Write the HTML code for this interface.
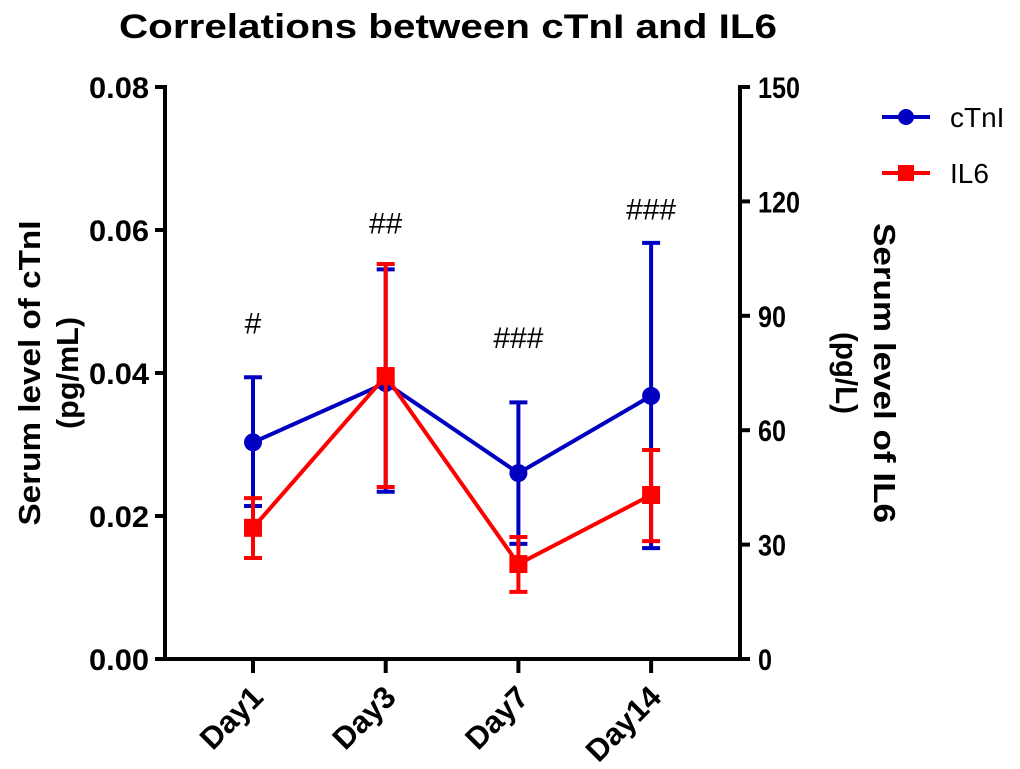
<!DOCTYPE html>
<html><head><meta charset="utf-8"><style>
body{margin:0;background:#fff;}
svg{display:block;font-family:"Liberation Sans",Arial,sans-serif;}
</style></head><body>
<svg id="chart" width="1020" height="769">
<text x="448" y="38" text-anchor="middle" font-size="34" font-weight="bold" textLength="658" lengthAdjust="spacingAndGlyphs">Correlations between cTnI and IL6</text>
<g id="axes"></g>
<g id="marks"></g>
<g>
<g>
<line x1="882" y1="117" x2="930" y2="117" stroke="#0000c0" stroke-width="4"/>
<circle cx="906" cy="117" r="8" fill="#0000c0"/>
<text x="950" y="127" font-size="28">cTnI</text></g>
<g>
<line x1="882" y1="173" x2="930" y2="173" stroke="#ff0000" stroke-width="4"/>
<rect x="898" y="165" width="16" height="16" fill="#ff0000"/>
<text x="950" y="183" font-size="28">IL6</text></g>
</g>
</svg>
<script>
const categories=["Day1","Day3","Day7","Day14"];
const ctniMean=[0.0303,0.0386,0.026,0.0368];
const ctniUpper=[0.0394,0.0545,0.0359,0.0582];
const ctniLower=[0.0214,0.0234,0.0161,0.0155];
const il6Mean=[34.4,74.2,24.9,43.0];
const il6Upper=[42.2,103.6,32.0,54.8];
const il6Lower=[26.5,45.1,17.6,30.9];
const leftTicks=[0,0.02,0.04,0.06,0.08];
const rightTicks=[0,30,60,90,120,150];
const marks=["#","##","###","###"];
const markLevels=[0.0455,0.0595,0.0435,0.0615];

const NS="http://www.w3.org/2000/svg";
const X0=165,X1=740,Y0=659,Y1=87;
const xPos=i=>253+i*132.7;
const yL=v=>Y0-(v/0.08)*(Y0-Y1);
const yR=v=>Y0-(v/150)*(Y0-Y1);
function el(tag,attrs,parent,text){const e=document.createElementNS(NS,tag);for(const k in attrs)e.setAttribute(k,attrs[k]);if(text!==undefined)e.textContent=text;parent.appendChild(e);return e;}
const axes=document.getElementById('axes'),mk=document.getElementById('marks');
const ax={stroke:"#000","stroke-width":4};
let a=el('line',Object.assign({x1:X0,y1:Y1-2,x2:X0,y2:Y0+2},ax),axes);


a=el('line',Object.assign({x1:X1,y1:Y1-2,x2:X1,y2:Y0+2},ax),axes);


a=el('line',Object.assign({x1:X0-10,y1:Y0,x2:X1+10,y2:Y0},ax),axes);


leftTicks.forEach(t=>{const y=yL(t);el('line',Object.assign({x1:X0-10,y1:y,x2:X0,y2:y},ax),axes);
const tx=el('text',{x:X0-16,y:y+11,"text-anchor":"end","font-size":30,"font-weight":"bold",textLength:60,lengthAdjust:"spacingAndGlyphs"},axes,t.toFixed(2));

});
rightTicks.forEach(t=>{const y=yR(t);el('line',Object.assign({x1:X1,y1:y,x2:X1+10,y2:y},ax),axes);
const s=String(t);
const tx=el('text',{x:X1+18,y:y+11,"text-anchor":"start","font-size":30,"font-weight":"bold",textLength:s.length*14,lengthAdjust:"spacingAndGlyphs"},axes,s);

});
categories.forEach((c,i)=>{const x=xPos(i);el('line',Object.assign({x1:x,y1:Y0,x2:x,y2:Y0+14},ax),axes);
const tx=el('text',{x:x+12,y:Y0+40,"text-anchor":"end","font-size":31,"font-weight":"bold",transform:`rotate(-45 ${x+12} ${Y0+40})`},axes,c);

});
let t=el('text',{x:0,y:0,"text-anchor":"middle","font-size":31,"font-weight":"bold",transform:"translate(40,373) rotate(-90)"},axes);


el('tspan',{x:0,dy:0,textLength:305,lengthAdjust:"spacingAndGlyphs"},t,"Serum level of cTnI");el('tspan',{x:0,dy:38,textLength:112,lengthAdjust:"spacingAndGlyphs"},t,"(pg/mL)");
t=el('text',{x:0,y:0,"text-anchor":"middle","font-size":31,"font-weight":"bold",transform:"translate(874,373) rotate(90)"},axes);


el('tspan',{x:0,dy:0,textLength:300,lengthAdjust:"spacingAndGlyphs"},t,"Serum level of IL6");el('tspan',{x:0,dy:38,textLength:82,lengthAdjust:"spacingAndGlyphs"},t,"(pg/L)");

function series(mean,up,lo,yf,color,shape,name){
 const g=el('g',{},mk);
 
 
 mean.forEach((v,i)=>{const x=xPos(i);
  const e=el('g',{stroke:color,"stroke-width":4},g);
  
  
  el('line',{x1:x,y1:yf(up[i]),x2:x,y2:yf(lo[i])},e);
  el('line',{x1:x-9,y1:yf(up[i]),x2:x+9,y2:yf(up[i])},e);
  el('line',{x1:x-9,y1:yf(lo[i]),x2:x+9,y2:yf(lo[i])},e);});
 const pl=el('polyline',{points:mean.map((v,i)=>xPos(i)+","+yf(v)).join(" "),fill:"none",stroke:color,"stroke-width":4},g);
 
 
 mean.forEach((v,i)=>{const x=xPos(i),y=yf(v);let p;
  if(shape==='c')p=el('circle',{cx:x,cy:y,r:9,fill:color},g);
  else p=el('rect',{x:x-9,y:y-9,width:18,height:18,fill:color},g);
  
  });
}
series(ctniMean,ctniUpper,ctniLower,yL,"#0000c0",'c','ctni');
series(il6Mean,il6Upper,il6Lower,yR,"#ff0000",'s','il6');
marks.forEach((m,i)=>{const tx=el('text',{x:xPos(i),y:yL(markLevels[i]),"text-anchor":"middle","font-size":30},mk,m);

});
</script>
</body></html>
